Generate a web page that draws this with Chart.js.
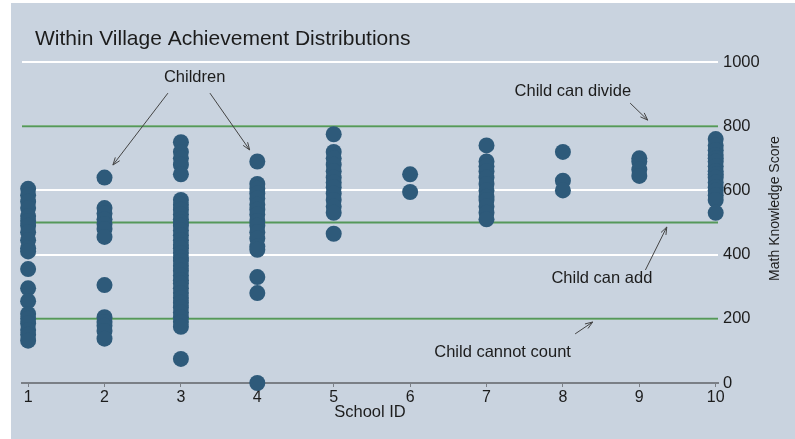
<!DOCTYPE html>
<html>
<head>
<meta charset="utf-8">
<script src="https://cdn.jsdelivr.net/npm/chart.js@4.4.1/dist/chart.umd.min.js"></script>
<style>
  html, body { margin: 0; padding: 0; background: #fff; }
  #wrap { width: 795px; height: 439px; }
</style>
</head>
<body>
<div id="wrap"><canvas id="chart"></canvas></div>
<script>
// scores, one list per school
const schoolIds = [1, 2, 3, 4, 5, 6, 7, 8, 9, 10];
const school1 = [605, 585, 565, 545, 520, 505, 490, 470, 445, 420, 410, 355, 295, 255, 215, 200, 185, 165, 150, 132];
const school2 = [640, 545, 528, 510, 495, 480, 455, 305, 205, 190, 178, 162, 138];
const school3 = [750, 720, 700, 680, 650, 570, 555, 540, 525, 510, 500, 490, 475, 460, 445, 430, 420, 405, 390, 380,
                 365, 350, 335, 320, 310, 295, 280, 265, 250, 235, 220, 205, 190, 175, 75];
const school4 = [690, 620, 605, 590, 575, 555, 540, 525, 505, 490, 470, 450, 425, 415, 330, 280, 0];
const school5 = [775, 720, 700, 680, 660, 640, 625, 610, 590, 570, 550, 530, 465];
const school6 = [650, 595];
const school7 = [740, 690, 675, 660, 640, 620, 600, 580, 570, 550, 530, 510];
const school8 = [720, 630, 600];
const school9 = [700, 690, 665, 645];
const school10 = [760, 740, 725, 710, 700, 690, 675, 660, 650, 640, 625, 610, 600, 585, 570, 530];
const schools = [school1, school2, school3, school4, school5, school6, school7, school8, school9, school10];

const yTicks = [0, 200, 400, 600, 800, 1000];
const thresholds = [200, 500, 800];

const titleText = "Within Village Achievement Distributions";
const xTitle = "School ID";
const yTitle = "Math Knowledge Score";

// text notes with arrows, in data units
const notes = [
  { text: "Children", x: 3.18, y: 953, arrows: [[2.83, 903, 2.11, 679], [3.38, 903, 3.90, 726]] },
  { text: "Child can divide", x: 8.13, y: 907, arrows: [[8.88, 872, 9.11, 819]] },
  { text: "Child can add", x: 8.51, y: 327, arrows: [[9.08, 352, 9.36, 486]] },
  { text: "Child cannot count", x: 7.21, y: 94, arrows: [[8.16, 153, 8.39, 190]] }
];

const FONT = "'Liberation Sans', Arial, sans-serif";
const BG = "#c9d3df";

const points = [];
schools.forEach((vals, i) => vals.forEach(v => points.push({ x: schoolIds[i], y: v })));

const X_MIN = 0.92, X_MAX = 10.03;

const lineSets = thresholds.map(t => ({
  type: "line",
  data: [{ x: X_MIN, y: t }, { x: X_MAX, y: t }],
  borderColor: "#55985a",
  borderWidth: 2,
  pointRadius: 0,
  order: 2
}));

function arrow(ctx, x1, y1, x2, y2) {
  const a = Math.atan2(y2 - y1, x2 - x1);
  ctx.beginPath();
  ctx.moveTo(x1, y1);
  ctx.lineTo(x2, y2);
  ctx.moveTo(x2 - 8 * Math.cos(a - 0.35), y2 - 8 * Math.sin(a - 0.35));
  ctx.lineTo(x2, y2);
  ctx.lineTo(x2 - 8 * Math.cos(a + 0.35), y2 - 8 * Math.sin(a + 0.35));
  ctx.stroke();
}

const decor = {
  id: "decor",
  beforeDraw(chart) {
    const ctx = chart.ctx;
    ctx.save();
    ctx.fillStyle = "#fff";
    ctx.fillRect(0, 0, chart.width, chart.height);
    ctx.fillStyle = BG;
    ctx.fillRect(11, 3, chart.width - 11, chart.height - 3);
    ctx.restore();
  },
  afterDraw(chart) {
    const ctx = chart.ctx;
    const xs = chart.scales.x, ys = chart.scales.y;
    ctx.save();
    ctx.fillStyle = "#1c1c1c";
    ctx.font = "21px " + FONT;
    ctx.textAlign = "left";
    ctx.textBaseline = "middle";
    ctx.fillText(titleText, 35, 39);

    ctx.font = "14px " + FONT;
    ctx.translate(775, (ys.top + ys.bottom) / 2 - 14);
    ctx.rotate(-Math.PI / 2);
    ctx.textAlign = "center";
    ctx.fillText(yTitle, 0, 0);
    ctx.restore();

    ctx.save();
    ctx.font = "16.5px " + FONT;
    ctx.fillStyle = "#1c1c1c";
    ctx.textAlign = "center";
    ctx.textBaseline = "middle";
    ctx.strokeStyle = "#444";
    ctx.lineWidth = 1;
    notes.forEach(n => {
      ctx.fillText(n.text, xs.getPixelForValue(n.x), ys.getPixelForValue(n.y));
      n.arrows.forEach(a => arrow(ctx,
        xs.getPixelForValue(a[0]), ys.getPixelForValue(a[1]),
        xs.getPixelForValue(a[2]), ys.getPixelForValue(a[3])));
    });
    ctx.restore();
  }
};

new Chart(document.getElementById("chart"), {
  type: "scatter",
  data: {
    datasets: [
      {
        data: points,
        backgroundColor: "#2e5a7a",
        borderWidth: 0,
        pointRadius: 8,
        pointHoverRadius: 8,
        clip: false,
        order: 1
      },
      ...lineSets
    ]
  },
  options: {
    responsive: true,
    maintainAspectRatio: false,
    animation: false,
    events: [],
    layout: { padding: { left: 22, top: 62, right: 0, bottom: 0 } },
    plugins: { legend: { display: false }, tooltip: { enabled: false } },
    scales: {
      x: {
        type: "linear",
        min: X_MIN,
        max: X_MAX,
        afterFit(s) { s.height = 56; },
        border: { display: true, color: "#7a7f86", width: 2 },
        grid: { drawOnChartArea: false, drawTicks: true, tickLength: 4, color: "#7a7f86" },
        ticks: {
          stepSize: 1, includeBounds: false, padding: 1,
          color: "#1c1c1c", font: { family: FONT, size: 16 },
          maxRotation: 0
        },
        title: {
          display: true, text: xTitle, color: "#1c1c1c",
          font: { family: FONT, size: 16.5 }, padding: { top: 0, bottom: 17 }
        }
      },
      y: {
        position: "right",
        min: 0,
        max: 1000,
        afterFit(s) { s.width = 77; },
        afterBuildTicks(s) { s.ticks = yTicks.map(v => ({ value: v })); },
        border: { display: false },
        grid: { color: "#ffffff", lineWidth: 2, drawTicks: false },
        ticks: {
          padding: 5, color: "#1c1c1c", font: { family: FONT, size: 16.5 },
          callback: v => String(v)
        }
      }
    }
  },
  plugins: [decor]
});
</script>
</body>
</html>
